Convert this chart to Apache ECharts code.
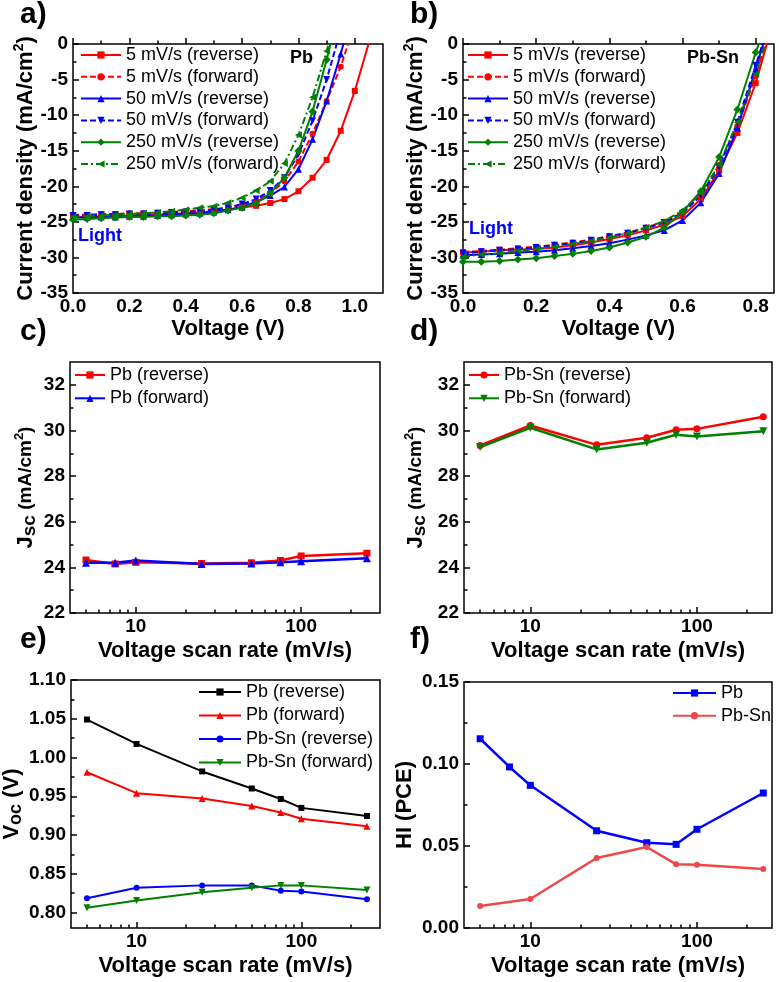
<!DOCTYPE html>
<html><head><meta charset="utf-8">
<script src="https://cdn.jsdelivr.net/npm/echarts@6/dist/echarts.min.js"></script>
<style>html,body{margin:0;padding:0;background:#fff}#c{width:779px;height:982px}</style>
</head><body><div id="c"></div>
<script>
const FONT = '"Liberation Sans", Arial, sans-serif';

// ---------- Panel a: Pb J-V curves ----------
const vA = [0,0.05,0.1,0.15,0.2,0.25,0.3,0.35,0.4,0.45,0.5,0.55,0.6,0.65,0.7,0.75,0.8,0.85,0.9,0.95,1.0,1.05];
const a5rev   = [-24.3,-24.3,-24.2,-24.2,-24.1,-24.1,-24.0,-23.9,-23.8,-23.7,-23.5,-23.3,-23.0,-22.75,-22.35,-21.8,-20.7,-18.8,-16.3,-12.2,-6.6,0.2];
const a5fwd   = [-24.0,-24.0,-23.9,-23.9,-23.8,-23.8,-23.7,-23.6,-23.5,-23.4,-23.2,-23.0,-22.6,-22.0,-21.0,-19.3,-16.5,-12.6,-8.0,-3.2,3.0];
const a50rev  = [-24.4,-24.4,-24.3,-24.3,-24.2,-24.2,-24.1,-24.0,-23.9,-23.8,-23.6,-23.3,-22.9,-22.2,-21.3,-20.1,-17.6,-13.4,-8.0,-1.4,6.0];
const a50fwd  = [-24.1,-24.1,-24.0,-24.0,-23.9,-23.9,-23.8,-23.7,-23.6,-23.5,-23.3,-23.0,-22.5,-21.8,-20.6,-18.8,-15.5,-10.8,-5.0,2.0];
const a250rev = [-24.7,-24.6,-24.5,-24.4,-24.3,-24.3,-24.2,-24.2,-24.1,-24.0,-23.8,-23.4,-23.0,-22.4,-21.0,-18.8,-15.0,-9.5,-2.2,6.0];
const a250fwd = [-24.3,-24.2,-24.1,-24.0,-23.9,-23.8,-23.7,-23.5,-23.3,-23.0,-22.8,-22.3,-21.6,-20.6,-19.3,-16.8,-12.8,-7.5,-1.0,6.0];

// ---------- Panel b: Pb-Sn J-V curves ----------
const vB = [0,0.05,0.1,0.15,0.2,0.25,0.3,0.35,0.4,0.45,0.5,0.55,0.6,0.65,0.7,0.75,0.8,0.85];
const b5rev   = [-29.3,-29.2,-29.0,-28.9,-28.8,-28.6,-28.3,-27.9,-27.4,-26.9,-26.2,-25.4,-24.2,-21.8,-17.8,-12.5,-5.5,3.5];
const b5fwd   = [-29.2,-29.1,-28.9,-28.7,-28.5,-28.2,-27.9,-27.5,-27.0,-26.5,-25.8,-25.0,-23.7,-21.2,-17.0,-11.5,-4.5,4.0];
const b50rev  = [-29.7,-29.6,-29.5,-29.3,-29.2,-29.0,-28.7,-28.4,-28.0,-27.5,-26.9,-26.2,-24.8,-22.3,-18.2,-11.8,-3.5,5.0];
const b50fwd  = [-29.4,-29.2,-29.0,-28.8,-28.6,-28.3,-28.0,-27.6,-27.1,-26.6,-25.9,-25.1,-23.8,-21.3,-17.3,-11.0,-3.0,5.0];
const b250rev = [-30.6,-30.6,-30.5,-30.3,-30.1,-29.8,-29.5,-29.1,-28.6,-27.9,-27.1,-25.8,-23.6,-20.7,-15.9,-9.2,-1.2,6.0];
const b250fwd = [-29.9,-29.6,-29.4,-29.1,-28.8,-28.5,-28.1,-27.7,-27.2,-26.6,-25.8,-24.9,-23.4,-21.0,-17.0,-11.0,-4.2,4.0];

// ---------- Scan rates ----------
const rate8 = [5,7.5,10,25,50,75,100,250];
const rate7 = [5,10,25,50,75,100,250];

// ---------- Panel c: Pb Jsc ----------
const cRev = [24.32,24.15,24.22,24.17,24.2,24.3,24.5,24.62];
const cFwd = [24.2,24.2,24.3,24.15,24.17,24.22,24.27,24.4];

// ---------- Panel d: Pb-Sn Jsc ----------
const dRev = [29.34,30.22,29.37,29.68,30.03,30.07,30.6];
const dFwd = [29.27,30.12,29.17,29.46,29.81,29.74,29.97];

// ---------- Panel e: Voc ----------
const ePbRev = [1.049,1.0175,0.982,0.96,0.9465,0.935,0.9246];
const ePbFwd = [0.981,0.954,0.947,0.9375,0.929,0.921,0.9113];
const eSnRev = [0.8185,0.832,0.835,0.835,0.828,0.827,0.817];
const eSnFwd = [0.806,0.8155,0.826,0.832,0.835,0.835,0.829];

// ---------- Panel f: HI ----------
const fPb = [0.1154,0.0982,0.087,0.0593,0.052,0.051,0.0602,0.0823];
const fSn = [0.0134,0.0177,0.0427,0.0494,0.0388,0.0386,0.036];

// ---------- Tick values ----------
const ticksVA = [0,0.2,0.4,0.6,0.8,1.0];
const minorVA = [0.1,0.3,0.5,0.7,0.9];
const ticksVB = [0,0.2,0.4,0.6,0.8];
const minorVB = [0.1,0.3,0.5,0.7];
const ticksJ = [-35,-30,-25,-20,-15,-10,-5,0];
const minorJ = [-32.5,-27.5,-22.5,-17.5,-12.5,-7.5,-2.5];
const ticksJsc = [22,24,26,28,30,32];
const minorJsc = [23,25,27,29,31];
const ticksVoc = [0.80,0.85,0.90,0.95,1.00,1.05,1.10];
const minorVoc = [0.825,0.875,0.925,0.975,1.025,1.075];
const ticksHI = [0,0.05,0.10,0.15];
const minorHI = [0.025,0.075,0.125];
const ticksLog = [10,100];
const minorLog = [5,6,7,8,9,20,30,40,50,60,70,80,90,200];

const RED = '#ff0000', BLUE = '#0000ff', GREEN = '#008000', BLACK = '#000000', LRED = '#f04848';

const grids = [
  {left:73, top:44, width:310, height:249},
  {left:463, top:44, width:311, height:249},
  {left:70, top:362, width:310, height:251},
  {left:464, top:362, width:308, height:251},
  {left:70, top:680, width:310, height:248},
  {left:464, top:682, width:308, height:246}
].map(g => Object.assign(g, {show:true, borderColor:'#000', borderWidth:1.5, backgroundColor:'transparent'}));

const labelStyle = {color:'#000', fontSize:19, fontWeight:'bold', fontFamily:FONT};
const nameStyle = {color:'#000', fontSize:22, fontWeight:'bold', fontFamily:FONT};

function axisPair(dim, gi, cfg) {
  const base = {
    gridIndex: gi, type: cfg.type || 'value', min: cfg.min, max: cfg.max,
    position: dim === 'x' ? 'bottom' : 'left',
    splitLine: {show:false}, axisLine: {show:false}, minorTick: {show:false}
  };
  if (cfg.type === 'log') base.logBase = 10;
  const major = Object.assign({}, base, {
    axisTick: {show:true, inside:true, length:6, lineStyle:{color:'#000', width:1.5}, customValues: cfg.ticks},
    axisLabel: Object.assign({show:true, customValues: cfg.ticks, formatter: cfg.fmt, margin: dim === 'x' ? 4 : 5}, labelStyle),
    name: cfg.name, nameLocation:'middle', nameGap: cfg.nameGap, nameTextStyle: cfg.nameStyle || nameStyle
  });
  const minor = Object.assign({}, base, {
    axisTick: {show:true, inside:true, length:3.5, lineStyle:{color:'#000', width:1.5}, customValues: cfg.minor},
    axisLabel: {show:false}
  });
  return [major, minor];
}

const f1 = v => v.toFixed(1), f0 = v => String(v), f2 = v => v.toFixed(2);
const supRich = {
  t:{fontSize:22, fontWeight:'bold', fontFamily:FONT, color:'#000', lineHeight:26},
  s:{fontSize:14, fontWeight:'bold', fontFamily:FONT, color:'#000', lineHeight:14, verticalAlign:'top'}
};
const jscRich = {
  j:{fontSize:22, fontWeight:'bold', fontFamily:FONT, color:'#000', lineHeight:26},
  sc:{fontSize:19, fontWeight:'bold', fontFamily:FONT, color:'#000', lineHeight:23, verticalAlign:'bottom'},
  u:{fontSize:19, fontWeight:'bold', fontFamily:FONT, color:'#000', lineHeight:26},
  s:{fontSize:13, fontWeight:'bold', fontFamily:FONT, color:'#000', lineHeight:14, verticalAlign:'top'}
};
const vocRich = {
  v:{fontSize:22, fontWeight:'bold', fontFamily:FONT, color:'#000', lineHeight:26},
  oc:{fontSize:18, fontWeight:'bold', fontFamily:FONT, color:'#000', lineHeight:22, verticalAlign:'bottom'}
};
const jName = '{t|Current density (mA/cm}{s|2}{t|)}';
const jscName = '{j|J}{sc|sc}{u| (mA/cm}{s|2}{u|)}';

const xAxes = [
  ...axisPair('x',0,{min:0,max:1.1,ticks:ticksVA,minor:minorVA,fmt:f1,name:'Voltage (V)',nameGap:25}),
  ...axisPair('x',1,{min:0,max:0.85,ticks:ticksVB,minor:minorVB,fmt:f1,name:'Voltage (V)',nameGap:25}),
  ...axisPair('x',2,{type:'log',min:4,max:300,ticks:ticksLog,minor:minorLog,fmt:f0,name:'Voltage scan rate (mV/s)',nameGap:27}),
  ...axisPair('x',3,{type:'log',min:4,max:282,ticks:ticksLog,minor:minorLog,fmt:f0,name:'Voltage scan rate (mV/s)',nameGap:27}),
  ...axisPair('x',4,{type:'log',min:4,max:300,ticks:ticksLog,minor:minorLog,fmt:f0,name:'Voltage scan rate (mV/s)',nameGap:27}),
  ...axisPair('x',5,{type:'log',min:4,max:282,ticks:ticksLog,minor:minorLog,fmt:f0,name:'Voltage scan rate (mV/s)',nameGap:27})
];
const yAxes = [
  ...axisPair('y',0,{min:-35,max:0,ticks:ticksJ,minor:minorJ,fmt:f0,name:jName,nameGap:33,nameStyle:{rich:supRich}}),
  ...axisPair('y',1,{min:-35,max:0,ticks:ticksJ,minor:minorJ,fmt:f0,name:jName,nameGap:33,nameStyle:{rich:supRich}}),
  ...axisPair('y',2,{min:22,max:33,ticks:ticksJsc,minor:minorJsc,fmt:f0,name:jscName,nameGap:31,nameStyle:{rich:jscRich}}),
  ...axisPair('y',3,{min:22,max:33,ticks:ticksJsc,minor:minorJsc,fmt:f0,name:jscName,nameGap:35,nameStyle:{rich:jscRich}}),
  ...axisPair('y',4,{min:0.78,max:1.10,ticks:ticksVoc,minor:minorVoc,fmt:f2,name:'{v|V}{oc|oc}{v| (V)}',nameGap:46,nameStyle:{rich:vocRich}}),
  ...axisPair('y',5,{min:0,max:0.15,ticks:ticksHI,minor:minorHI,fmt:f2,name:'HI (PCE)',nameGap:48})
];

function zip(xs, ys) { return ys.map((y, i) => [xs[i], y]); }
function ser(name, gi, xs, ys, color, symbol, o) {
  o = o || {};
  return {
    type:'line', name, xAxisIndex: 2*gi, yAxisIndex: 2*gi,
    data: zip(xs, ys), color,
    symbol, symbolSize: o.size || 7, symbolRotate: o.rot || 0,
    lineStyle: {color, width: o.width || 2, type: o.dash || 'solid'},
    itemStyle: {color},
    clip: true, z: o.z || 2
  };
}
const DASH = [6,3], DASHDOT = [7,3,2,3];

const series = [
  ser('5 mV/s (reverse)',0,vA,a5rev,RED,'rect',{size:6}),
  ser('5 mV/s (forward)',0,vA,a5fwd,RED,'circle',{size:6,dash:DASH}),
  ser('50 mV/s (reverse)',0,vA,a50rev,BLUE,'triangle',{size:7}),
  ser('50 mV/s (forward)',0,vA,a50fwd,BLUE,'triangle',{size:7,rot:180,dash:DASH}),
  ser('250 mV/s (reverse)',0,vA,a250rev,GREEN,'diamond',{size:8}),
  ser('250 mV/s (forward)',0,vA,a250fwd,GREEN,'triangle',{size:7,rot:90,dash:DASHDOT}),

  ser('5 mV/s (reverse) ',1,vB,b5rev,RED,'rect',{size:6}),
  ser('5 mV/s (forward) ',1,vB,b5fwd,RED,'circle',{size:6,dash:DASH}),
  ser('50 mV/s (reverse) ',1,vB,b50rev,BLUE,'triangle',{size:7}),
  ser('50 mV/s (forward) ',1,vB,b50fwd,BLUE,'triangle',{size:7,rot:180,dash:DASH}),
  ser('250 mV/s (reverse) ',1,vB,b250rev,GREEN,'diamond',{size:8}),
  ser('250 mV/s (forward) ',1,vB,b250fwd,GREEN,'triangle',{size:7,rot:90,dash:DASHDOT}),

  ser('Pb (reverse)',2,rate8,cRev,RED,'rect',{size:7,width:2.5}),
  ser('Pb (forward)',2,rate8,cFwd,BLUE,'triangle',{size:8,width:2.5}),

  ser('Pb-Sn (reverse)',3,rate7,dRev,RED,'circle',{size:7,width:2.5}),
  ser('Pb-Sn (forward)',3,rate7,dFwd,GREEN,'triangle',{size:8,rot:180,width:2.5}),

  ser('Pb (reverse) ',4,rate7,ePbRev,BLACK,'rect',{size:6}),
  ser('Pb (forward) ',4,rate7,ePbFwd,RED,'triangle',{size:7}),
  ser('Pb-Sn (reverse) ',4,rate7,eSnRev,BLUE,'circle',{size:6}),
  ser('Pb-Sn (forward) ',4,rate7,eSnFwd,GREEN,'triangle',{size:7,rot:180}),

  ser('Pb',5,rate8,fPb,BLUE,'rect',{size:7,width:2.5}),
  ser('Pb-Sn',5,rate7,fSn,LRED,'circle',{size:6,width:2.5})
];

function leg(names, left, top, w, gap) {
  return {
    data: names, left, top, orient:'vertical', align:'left', padding:0,
    itemWidth: w, itemHeight: 9, itemGap: gap, selectedMode:false,
    textStyle:{fontSize:18, lineHeight:18, fontFamily:FONT, color:'#000'},
    formatter: n => n.trim()
  };
}
const legends = [
  leg(series.slice(0,6).map(s=>s.name), 80, 46, 40, 3.8),
  leg(series.slice(6,12).map(s=>s.name), 467, 46, 40, 3.8),
  leg(['Pb (reverse)','Pb (forward)'], 74, 366, 30, 5.3),
  leg(['Pb-Sn (reverse)','Pb-Sn (forward)'], 468, 366, 30, 5.3),
  leg(['Pb (reverse) ','Pb (forward) ','Pb-Sn (reverse) ','Pb-Sn (forward) '], 198, 683, 42, 5.5),
  leg(['Pb','Pb-Sn'], 672, 684, 43, 4.7)
];

function txt(text, left, top, size, color) {
  return {type:'text', left, top, z:100, style:{text, fill: color || '#000', font:'bold ' + size + 'px ' + FONT}};
}
const graphics = [
  txt('a)', 20, 0, 30), txt('b)', 410, 0, 30),
  txt('c)', 20, 317, 30), txt('d)', 410, 317, 30),
  txt('e)', 20, 625, 30), txt('f)', 410, 625, 30),
  txt('Pb', 290, 49, 18), txt('Pb-Sn', 687, 49, 18),
  txt('Light', 78, 227, 18, '#0000ff'), txt('Light', 469, 220, 18, '#0000ff')
];

const chart = echarts.init(document.getElementById('c'), null, {renderer:'canvas'});
chart.setOption({
  animation:false,
  backgroundColor:'#fff',
  grid: grids,
  xAxis: xAxes,
  yAxis: yAxes,
  legend: legends,
  graphic: graphics,
  series
});
</script></body></html>
